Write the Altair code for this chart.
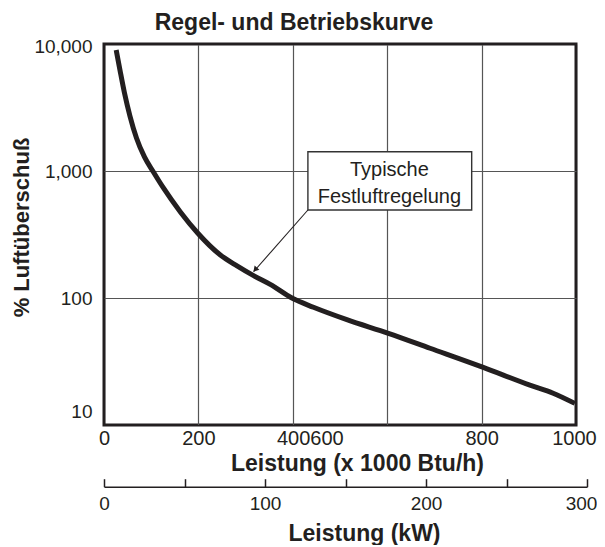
import altair as alt
import pandas as pd

# --- data -------------------------------------------------------------
kbtu = [25.8, 33.8, 43.4, 55.0, 68.8, 85.7, 104.7, 125.9, 161.8, 198.4, 246.5,
        281.8, 316.9, 352.2, 398.1, 443.8, 514.5, 602.5, 690.7, 803.5,
        902.3, 951.6, 997.5]
pct = [8970, 6240, 4110, 2710, 1820, 1290, 982, 735, 476, 325, 218,
       179, 150, 128, 100, 84.5, 67.5, 52.7, 40.2, 28.4,
       20.6, 17.8, 14.8]

x_ticks = [0, 200, 400, 600, 800, 1000]
y_ticks = [10, 100, 1000, 10000]
kw_labels = [0, 100, 200, 300]
kw_ticks = [0, 50, 100, 150, 200, 250, 300]

# annotation (data coordinates)
box_x = [432, 779]
box_y = [1419, 493]
note_lines = ["Typische", "Festluftregelung"]
note_x = [604.6, 604.6]
note_y = [914, 562]
arrow_x = [432, 316.9]
arrow_y = [493, 161]
head_x = [321.6]
head_y = [169]

FONT = "Liberation Sans"
INK = "#231f20"
GRID = "#555555"

curve = pd.DataFrame({"kbtu": kbtu, "pct": pct})
box_df = pd.DataFrame({"x1": [box_x[0]], "x2": [box_x[1]], "y1": [box_y[0]], "y2": [box_y[1]]})
note_df = pd.DataFrame({"t": note_lines, "x": note_x, "y": note_y})
arrow_df = pd.DataFrame({"x": arrow_x, "y": arrow_y})
head_df = pd.DataFrame({"x": head_x, "y": head_y})
kw_df = pd.DataFrame({"kw": [0, 300]})

xscale = alt.Scale(domain=[0, 1000], nice=False, zero=False)
yscale = alt.Scale(type="log", domain=[10, 10000], nice=False)
kwscale = alt.Scale(domain=[0, 300], range=[0, 483], nice=False, zero=False)

xaxis = alt.Axis(
    values=x_ticks, format="d", title="Leistung (x 1000 Btu/h)",
    labelExpr="datum.value == 400 ? '400600' : (datum.value == 600 ? '' : datum.label)",
    labelOffset={"condition": [{"test": "datum.value == 400", "value": 17},
                               {"test": "datum.value == 1000", "value": -2}],
                 "value": 0},
    labelFontSize=20, labelPadding=3, labelFlush=False, labelOverlap=False,
    labelBound=False, ticks=False, domain=False,
    grid=True, gridWidth=1.2,
    gridColor={"condition": {"test": "datum.value == 0 || datum.value == 1000", "value": INK},
               "value": GRID},
    titleFontSize=23, titleFontWeight="bold", titleX=253, titleY=45,
    titleBaseline="alphabetic", titleAlign="center",
)
yaxis = alt.Axis(
    values=y_ticks, format=",", title="% Luftüberschuß",
    labelFontSize=19, labelPadding=12, labelOverlap=False, labelBound=False,
    labelOffset={"condition": [{"test": "datum.value == 10", "value": -14},
                               {"test": "datum.value == 10000", "value": 2}],
                 "value": 0},
    ticks=False, domain=False, grid=True, gridWidth=1.2,
    gridColor={"condition": {"test": "datum.value == 10 || datum.value == 10000", "value": INK},
               "value": GRID},
    titleFontSize=22, titleFontWeight="bold", titleAngle=270,
    titleX=-83, titleY=183, titleAlign="center", titleBaseline="middle",
)

line = alt.Chart(curve).mark_line(
    color=INK, strokeWidth=5, strokeCap="butt", interpolate="monotone"
).encode(
    x=alt.X("kbtu:Q", scale=xscale, axis=xaxis),
    y=alt.Y("pct:Q", scale=yscale, axis=yaxis),
)

box = alt.Chart(box_df).mark_rect(fill="white", stroke="#333333", strokeWidth=1.4).encode(
    x=alt.X("x1:Q", scale=xscale, axis=xaxis), x2="x2:Q",
    y=alt.Y("y1:Q", scale=yscale, axis=yaxis), y2="y2:Q",
)

arrow = alt.Chart(arrow_df).mark_line(color=INK, strokeWidth=1.1).encode(
    x=alt.X("x:Q", scale=xscale, axis=xaxis),
    y=alt.Y("y:Q", scale=yscale, axis=yaxis),
)

head = alt.Chart(head_df).mark_point(
    shape="triangle", filled=True, size=40, angle=221, color=INK, opacity=1
).encode(
    x=alt.X("x:Q", scale=xscale, axis=xaxis),
    y=alt.Y("y:Q", scale=yscale, axis=yaxis),
)

note = alt.Chart(note_df).mark_text(
    font=FONT, fontSize=20, color=INK, align="center", baseline="alphabetic"
).encode(
    x=alt.X("x:Q", scale=xscale, axis=xaxis),
    y=alt.Y("y:Q", scale=yscale, axis=yaxis),
    text="t:N",
)

main = alt.layer(line, box, arrow, head, note)

kw_bottom = alt.Chart(kw_df).mark_point(opacity=0).encode(
    x=alt.X("kw:Q", scale=kwscale, axis=alt.Axis(
        orient="bottom", offset=61.7, values=kw_labels, format="d",
        title="Leistung (kW)", labelFontSize=19, labelPadding=8,
        labelOffset={"condition": {"test": "datum.value == 300", "value": -6}, "value": 0},
        labelFlush=False, labelOverlap=False, labelBound=False,
        ticks=False, tickSize=0, domain=True, domainColor=INK, domainWidth=1.5,
        grid=False, titleFontSize=23, titleFontWeight="bold", titleX=260,
        titleY=53.3, titleBaseline="alphabetic", titleAlign="center",
    ))
)

kw_top = alt.Chart(kw_df).mark_point(opacity=0).encode(
    x=alt.X("kw2:Q", scale=kwscale, axis=alt.Axis(
        orient="top", offset=-442.7, values=kw_ticks, labels=False,
        ticks=True, tickSize=8, tickWidth=1.5, tickColor=INK,
        domain=False, grid=False, title=None,
    ))
).transform_calculate(kw2="datum.kw")

chart = alt.layer(main, kw_bottom, kw_top).resolve_scale(x="independent").properties(
    width=472, height=381,
    autosize=alt.AutoSizeParams(type="none"),
    padding={"left": 96, "top": 36, "right": 21, "bottom": 120},
    title=alt.TitleParams(
        text="Regel- und Betriebskurve", font=FONT, fontSize=23, fontWeight="bold",
        color=INK, anchor="middle", frame="group", dx=-46, dy=28, offset=12,
        baseline="alphabetic",
    ),
).configure(font=FONT, background="white").configure_view(
    stroke=INK, strokeWidth=3
).configure_axis(
    labelFont=FONT, titleFont=FONT, labelColor=INK, titleColor=INK,
)

chart.save("out.html", embed_options={"renderer": "svg", "actions": False})
